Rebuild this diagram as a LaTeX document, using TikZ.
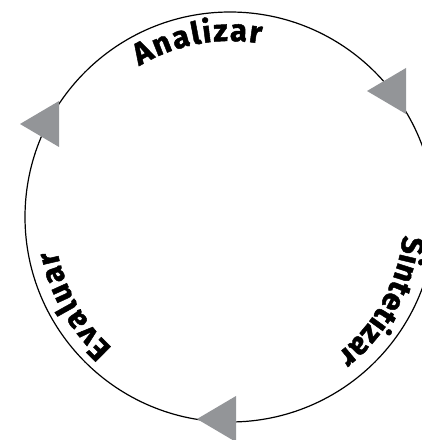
\documentclass[tikz,border=0pt]{standalone}
\usepackage{fontspec}
\usepackage{xcolor}
\usetikzlibrary{decorations.text}
\newfontfamily\cyclefont{Fira Sans}[BoldFeatures={FakeBold=1.5}]
\newcommand\cyclestyle{\cyclefont\bfseries\fontsize{31}{31}\selectfont}
\definecolor{arrowgray}{RGB}{147,149,152}

\begin{document}
\begin{tikzpicture}[x=1pt, y=1pt,
  ring/.style = {line width=1.2pt},
  tip/.style = {fill=arrowgray},
  arctext/.style = {decorate, decoration={text along path,
      text align=fit to path, text={|\cyclestyle|#1}}}
]
\useasboundingbox (0,0) rectangle (422,440);
\coordinate (c) at (230,223);
\draw[ring] (c) circle[radius=205];
% triangles on the ring
\foreach \x/\y in {367/349, 20/316, 197/21}
  \fill[tip] (\x,\y) -- ++(39,23) -- ++(0,-46) -- cycle;
% words along the ring
\path[arctext=Analizar] (c) ++(121:176) arc[start angle=121, end angle=80, radius=176];
\path[arctext=Sintetizar] (c) ++(-6:174) arc[start angle=-6, end angle=-52, radius=174];
\path[arctext=Evaluar] (c) ++(228:176) arc[start angle=228, end angle=191, radius=176];
\end{tikzpicture}
\end{document}
